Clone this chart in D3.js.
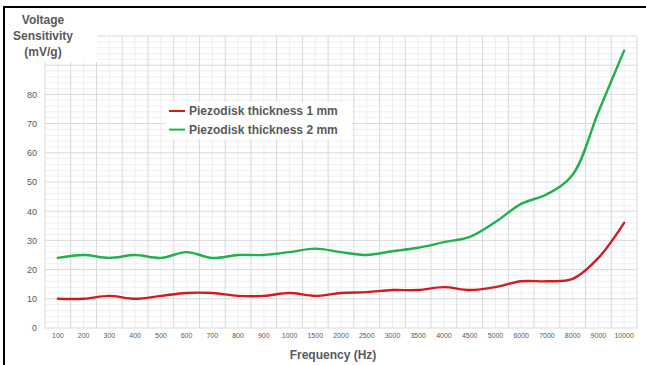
<!DOCTYPE html>
<html>
<head>
<meta charset="utf-8">
<script src="https://cdn.jsdelivr.net/npm/d3@7"></script>
<style>
  html, body { margin: 0; padding: 0; background: #fff; }
  svg { display: block; }
  text { font-family: "Liberation Sans", Arial, sans-serif; }
</style>
</head>
<body>
<svg id="chart" width="646" height="365"></svg>
<script>
// Frequency categories (Hz)
const frequencies = ["100","200","300","400","500","600","700","800","900","1000",
  "1500","2000","2500","3000","3500","4000","4500","5000","6000","7000","8000","9000","10000"];

// Voltage sensitivity (mV/g) per frequency
const thickness1mm = [10,10,11,10,11,12,12,11,11,12,11,12,12.3,13,13,14,13,14,16,16,16.8,24,36];
const thickness2mm = [24,25,24,25,24,26,24,25,25,26,27.2,26,25,26.3,27.5,29.4,31.2,36.3,42.5,45.8,52.5,74,95];

const yTickLabels = [0,10,20,30,40,50,60,70,80];

const seriesNames = ["Piezodisk thickness 1 mm", "Piezodisk thickness 2 mm"];
const seriesColors = ["#cf1c1f", "#1fb04f"];

const svg = d3.select("#chart");
const textColor = "#595959";

const x = d3.scaleBand().domain(frequencies).range([45, 637]).paddingInner(0).paddingOuter(0);
const y = d3.scaleLinear().domain([0, 100]).range([328, 36]);
const bw = x.bandwidth();
const cx = f => x(f) + bw / 2;

// Gridlines
const grid = svg.append("g");
grid.selectAll(".hminor").data(d3.range(0, 101, 2).filter(v => v % 10 !== 0)).join("line")
  .attr("x1", 45).attr("x2", 637).attr("y1", d => y(d)).attr("y2", d => y(d))
  .attr("stroke", "#f0f0f0").attr("stroke-width", 1);
grid.selectAll(".vminor").data(frequencies).join("line")
  .attr("x1", d => cx(d)).attr("x2", d => cx(d)).attr("y1", y(0)).attr("y2", y(100))
  .attr("stroke", "#eeeeee").attr("stroke-width", 1);
grid.selectAll(".hmajor").data(d3.range(0, 101, 10)).join("line")
  .attr("x1", 45).attr("x2", 637).attr("y1", d => y(d)).attr("y2", d => y(d))
  .attr("stroke", "#d9d9d9").attr("stroke-width", 1);
const edges = frequencies.map(f => x(f)).concat([x.range()[1]]);
grid.selectAll(".vmajor").data(edges).join("line")
  .attr("x1", d => d).attr("x2", d => d).attr("y1", y(0)).attr("y2", y(100))
  .attr("stroke", "#d9d9d9").attr("stroke-width", 1);

// Axes (labels only)
const yAxis = svg.append("g").attr("transform", "translate(37,0)")
  .call(d3.axisLeft(y).tickValues(yTickLabels).tickSize(0).tickPadding(0));
yAxis.select(".domain").remove();
yAxis.selectAll("text").attr("fill", textColor).style("font-size", "9px")
  .style("font-family", "'Liberation Sans', Arial, sans-serif");

const xAxis = svg.append("g").attr("transform", `translate(0,${y(0) + 5})`)
  .call(d3.axisBottom(x).tickSize(0).tickPadding(0));
xAxis.select(".domain").remove();
xAxis.selectAll("text").attr("fill", textColor).style("font-size", "7px")
  .style("font-family", "'Liberation Sans', Arial, sans-serif");

// Series lines
const line = d3.line()
  .x((d, i) => cx(frequencies[i]))
  .y(d => y(d))
  .curve(d3.curveCatmullRom.alpha(0.5));

[thickness1mm, thickness2mm].forEach((vals, i) => {
  svg.append("path").datum(vals)
    .attr("d", line)
    .attr("fill", "none")
    .attr("stroke", seriesColors[i])
    .attr("stroke-width", 2.4)
    .attr("stroke-linejoin", "round")
    .attr("stroke-linecap", "round");
});

// Y-axis title block
svg.append("rect").attr("x", 5).attr("y", 9).attr("width", 92).attr("height", 53).attr("fill", "#fff");
const yTitle = svg.append("text").attr("fill", textColor).attr("font-weight", "bold")
  .style("font-size", "12px").attr("text-anchor", "middle");
["Voltage", "Sensitivity", "(mV/g)"].forEach((t, i) => {
  yTitle.append("tspan").attr("x", 43).attr("y", 24 + i * 16).text(t);
});

// X-axis title
svg.append("text").attr("x", 333).attr("y", 359).attr("text-anchor", "middle")
  .attr("fill", textColor).attr("font-weight", "bold").style("font-size", "12px")
  .text("Frequency (Hz)");

// Legend
const legend = svg.append("g");
legend.append("rect").attr("x", 165).attr("y", 102).attr("width", 187).attr("height", 37).attr("fill", "#fff");
seriesNames.forEach((name, i) => {
  const ly = 111 + i * 18.6;
  legend.append("line").attr("x1", 169).attr("x2", 185).attr("y1", ly).attr("y2", ly)
    .attr("stroke", seriesColors[i]).attr("stroke-width", 2);
  legend.append("text").attr("x", 189).attr("y", ly + 4.2)
    .attr("fill", textColor).attr("font-weight", "bold").style("font-size", "12px")
    .text(name);
});

// Outer frame
svg.append("path").attr("d", "M4,370 L4,7 L650,7")
  .attr("fill", "none").attr("stroke", "#000").attr("stroke-width", 2);
</script>
</body>
</html>
